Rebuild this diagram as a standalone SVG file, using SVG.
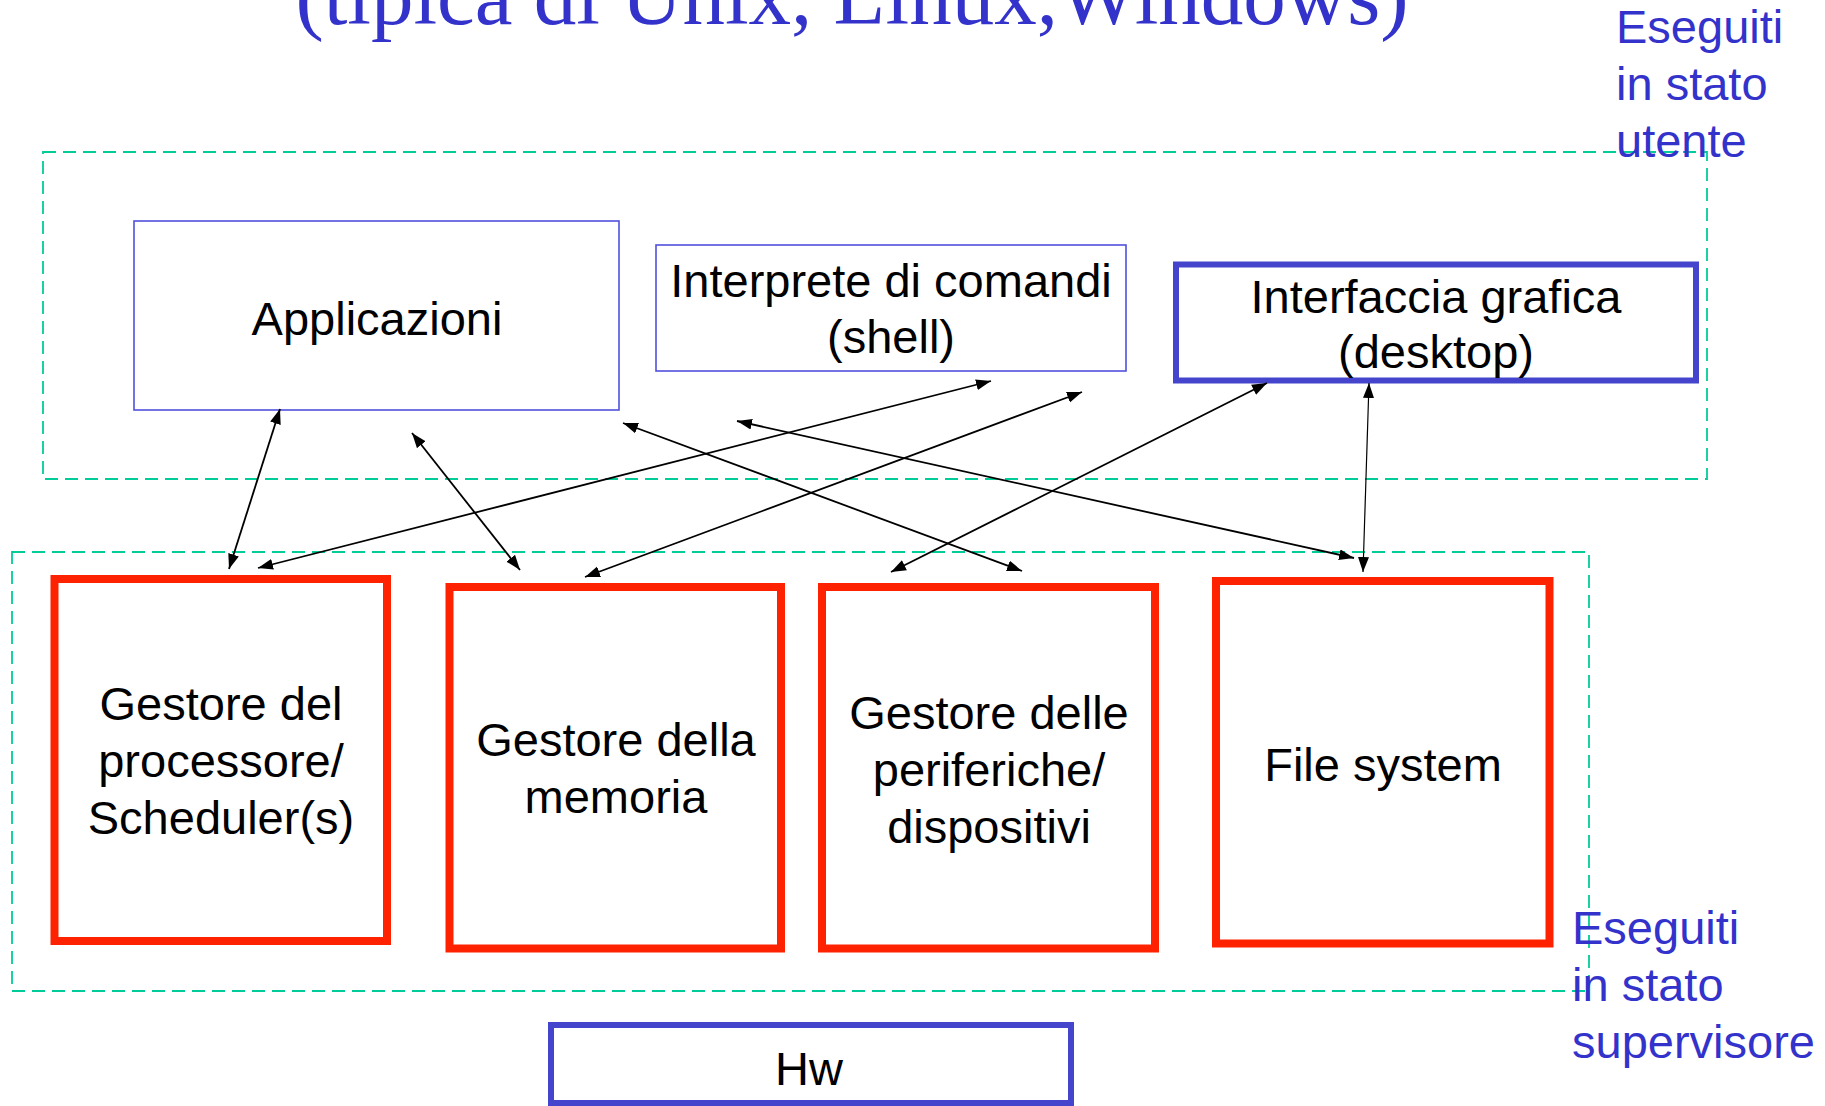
<svg xmlns="http://www.w3.org/2000/svg" width="1825" height="1106" viewBox="0 0 1825 1106">
<style>
.zone{fill:none;stroke:#00cc99;stroke-width:1.8;stroke-dasharray:13 7}
.ubox{fill:none;stroke:#5050dd;stroke-width:1.6}
.tbox{fill:none;stroke:#4444cc;stroke-width:6}
.kbox{fill:none;stroke:#ff2200;stroke-width:8}
.t{font-family:"Liberation Sans",Arial,Helvetica,sans-serif;font-size:47px;fill:#000;text-anchor:middle}
.lbl{font-family:"Liberation Sans",Arial,Helvetica,sans-serif;font-size:47px;fill:#3333cc}
.title{font-family:"Liberation Serif","Times New Roman",serif;font-size:85px;fill:#3333cc;text-anchor:middle}
.c{fill:none;stroke:#000;stroke-width:1.8;marker-start:url(#ah);marker-end:url(#ah)}
</style>
<defs>
<marker id="ah" markerUnits="userSpaceOnUse" markerWidth="16" markerHeight="12" refX="15" refY="5.5" orient="auto-start-reverse" viewBox="0 0 16 11">
<path d="M0,0 L15,5.5 L0,11 z" fill="#000"/>
</marker>
</defs>
<rect width="1825" height="1106" fill="#fff"/>
<text class="title" x="852" y="24">(tipica di Unix, Linux,Windows)</text>
<g id="zone-user"><rect class="zone" x="43" y="152" width="1664" height="327"/></g>
<g id="zone-kernel"><rect class="zone" x="12" y="552" width="1577" height="439"/></g>
<g id="label-user">
<text class="lbl" x="1616" y="43">Eseguiti</text>
<text class="lbl" x="1616" y="100">in stato</text>
<text class="lbl" x="1616" y="157">utente</text>
</g>
<g id="label-kernel">
<text class="lbl" x="1572" y="944">Eseguiti</text>
<text class="lbl" x="1572" y="1001">in stato</text>
<text class="lbl" x="1572" y="1058">supervisore</text>
</g>
<g id="applicazioni"><rect class="ubox" x="134" y="221" width="485" height="189"/><text class="t" x="377" y="335">Applicazioni</text></g>
<g id="shell"><rect class="ubox" x="656" y="245" width="470" height="126"/><text class="t" x="891" y="297">Interprete di comandi</text><text class="t" x="891" y="353">(shell)</text></g>
<g id="desktop"><rect class="tbox" x="1176" y="264.5" width="520" height="116"/><text class="t" x="1436" y="313">Interfaccia grafica</text><text class="t" x="1436" y="368">(desktop)</text></g>
<g id="processore"><rect class="kbox" x="54.5" y="579" width="332.5" height="362"/><text class="t" x="221" y="720">Gestore del</text><text class="t" x="221" y="777">processore/</text><text class="t" x="221" y="834">Scheduler(s)</text></g>
<g id="memoria"><rect class="kbox" x="449.5" y="587" width="331.5" height="361.5"/><text class="t" x="616" y="756">Gestore della</text><text class="t" x="616" y="813">memoria</text></g>
<g id="periferiche"><rect class="kbox" x="822" y="587" width="333" height="361.5"/><text class="t" x="989" y="729">Gestore delle</text><text class="t" x="989" y="786">periferiche/</text><text class="t" x="989" y="843">dispositivi</text></g>
<g id="filesystem"><rect class="kbox" x="1216" y="581" width="333.5" height="362.5"/><text class="t" x="1383" y="781">File system</text></g>
<g id="hw"><rect class="tbox" x="551" y="1025" width="520" height="78"/><text class="t" x="809" y="1085">Hw</text></g>
<g id="connectors">
<line class="c" x1="280" y1="409" x2="229" y2="569"/>
<line class="c" x1="412" y1="433" x2="520" y2="570"/>
<line class="c" x1="623" y1="423" x2="1022" y2="571"/>
<line class="c" x1="737" y1="421" x2="1354" y2="558"/>
<line class="c" x1="258" y1="568" x2="991" y2="381"/>
<line class="c" x1="585" y1="577" x2="1082" y2="392"/>
<line class="c" x1="891" y1="572" x2="1267" y2="383"/>
<line class="c" style="stroke-width:1.2" x1="1369" y1="383" x2="1363" y2="572"/>
</g>
</svg>
